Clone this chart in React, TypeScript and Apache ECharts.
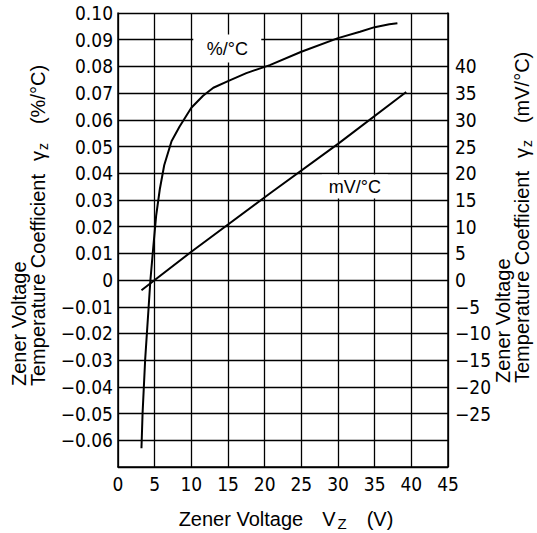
import React, { useEffect, useRef } from "react";
import * as echarts from "echarts";

// Zener voltage Vz (V) vs temperature coefficient
const pctCurveVz = [3.2, 3.35, 3.7, 4.18, 4.42, 4.8, 5.2, 5.7, 6.3, 7.3, 8.4, 10, 11.6, 13, 15, 17.5, 20.7, 25, 30, 33, 35, 37, 38.1];
const pctCurveCoef = [-0.063, -0.05, -0.03, -0.01, 0, 0.012, 0.024, 0.034, 0.043, 0.052, 0.0575, 0.0645, 0.069, 0.072, 0.0745, 0.0775, 0.0805, 0.0855, 0.0906, 0.093, 0.0947, 0.0958, 0.0962];

const mvLineVz = [3.2, 10, 20.7, 30, 39.3];
const mvLineCoef = [-1.9, 5.3, 16.2, 25.5, 35.2];

const xTickValues = [0, 5, 10, 15, 20, 25, 30, 35, 40, 45];
const xTickLabels = ["0", "5", "10", "15", "20", "25", "30", "35", "40", "45"];

const leftTickValues = [0.1, 0.09, 0.08, 0.07, 0.06, 0.05, 0.04, 0.03, 0.02, 0.01, 0, -0.01, -0.02, -0.03, -0.04, -0.05, -0.06, -0.07];
const leftTickLabels = ["0.10", "0.09", "0.08", "0.07", "0.06", "0.05", "0.04", "0.03", "0.02", "0.01", "0", "\u22120.01", "\u22120.02", "\u22120.03", "\u22120.04", "\u22120.05", "\u22120.06", ""];

const rightTickValues = [50, 45, 40, 35, 30, 25, 20, 15, 10, 5, 0, -5, -10, -15, -20, -25, -30, -35];
const rightTickLabels = ["", "", "40", "35", "30", "25", "20", "15", "10", "5", "0", "\u22125", "\u221210", "\u221215", "\u221220", "\u221225", "", ""];

const pctLabel = { text: "%/\u00b0C", vz: 14.9, coef: 0.0867 };
const mvLabel = { text: "mV/\u00b0C", vz: 32.3, coef: 17.5 };

const X_MIN = 0, X_MAX = 45, L_MIN = -0.07, L_MAX = 0.1;

const lookup = (vals: number[], labels: string[]) => (v: number) => {
  let best = 0;
  for (let i = 1; i < vals.length; i++) if (Math.abs(vals[i] - v) < Math.abs(vals[best] - v)) best = i;
  return labels[best];
};

const TICK_FONT = '"Liberation Sans Narrow", "DejaVu Sans Condensed", sans-serif';
const TITLE_FONT = '"Liberation Sans", Arial, Helvetica, sans-serif';

export default function App() {
  const ref = useRef<HTMLDivElement>(null);
  useEffect(() => {
    if (!ref.current) return;
    const chart = echarts.init(ref.current, undefined, { renderer: "svg" });
    const tickLabel = { color: "#000", fontSize: 19, fontFamily: TICK_FONT };
    const border = { show: true, onZero: false, lineStyle: { color: "#000", width: 1.5 } };
    const gridLine = { show: true, lineStyle: { color: "#000", width: 1.3, type: "solid", opacity: 1 } };
    const rich = (pad: number) => ({
      g: { fontSize: 20, fontFamily: TITLE_FONT, lineHeight: 24, padding: [0, 0, 0, 13] },
      s: { fontSize: 14, fontFamily: TITLE_FONT, lineHeight: 12, verticalAlign: "bottom", padding: [0, 0, 0, 1] },
      p: { fontSize: 20, fontFamily: TITLE_FONT, lineHeight: 24, padding: [0, 0, 0, pad] },
    });
    chart.setOption({
      animation: false,
      backgroundColor: "#fff",
      grid: { left: 118, right: 89, top: 13, bottom: 66, show: false, containLabel: false },
      xAxis: {
        type: "value",
        min: X_MIN,
        max: X_MAX,
        interval: 5,
        axisLine: border,
        axisTick: { show: false },
        splitLine: gridLine,
        axisLabel: { ...tickLabel, margin: 7, formatter: lookup(xTickValues, xTickLabels) },
      },
      yAxis: [
        {
          type: "value",
          min: L_MIN,
          max: L_MAX,
          interval: 0.01,
          axisLine: border,
          axisTick: { show: false },
          splitLine: gridLine,
          axisLabel: { ...tickLabel, margin: 5, formatter: lookup(leftTickValues, leftTickLabels) },
        },
        {
          type: "value",
          position: "right",
          min: -35,
          max: 50,
          interval: 5,
          axisLine: border,
          axisTick: { show: false },
          splitLine: { show: false },
          axisLabel: { ...tickLabel, margin: 7, formatter: lookup(rightTickValues, rightTickLabels) },
        },
      ],
      series: [
        {
          type: "line",
          yAxisIndex: 0,
          data: pctCurveVz.map((x, i) => [x, pctCurveCoef[i]]),
          smooth: false,
          showSymbol: false,
          lineStyle: { color: "#000", width: 2 },
          z: 5,
          markPoint: {
            symbol: "rect",
            symbolSize: [68, 28],
            itemStyle: { color: "#fff" },
            label: { show: true, position: "inside", formatter: pctLabel.text, color: "#000", fontSize: 18, fontFamily: TITLE_FONT },
            data: [{ coord: [pctLabel.vz, pctLabel.coef] }],
          },
        },
        {
          type: "line",
          yAxisIndex: 1,
          data: mvLineVz.map((x, i) => [x, mvLineCoef[i]]),
          showSymbol: false,
          lineStyle: { color: "#000", width: 2 },
          z: 5,
          markPoint: {
            symbol: "rect",
            symbolSize: [66, 24],
            itemStyle: { color: "#fff" },
            label: { show: true, position: "inside", formatter: mvLabel.text, color: "#000", fontSize: 18, fontFamily: TITLE_FONT },
            data: [{ coord: [mvLabel.vz, mvLabel.coef] }],
          },
        },
      ],
      graphic: [
        {
          type: "text",
          x: 19,
          y: 386,
          rotation: Math.PI / 2,
          style: { text: "Zener Voltage", fill: "#000", font: `20px ${TITLE_FONT}`, align: "left", verticalAlign: "middle" },
        },
        {
          type: "text",
          x: 38,
          y: 386,
          rotation: Math.PI / 2,
          style: {
            text: "Temperature Coefficient{g|\u03b3}{s|z}{p|(%/\u00b0C)}",
            fill: "#000",
            font: `20px ${TITLE_FONT}`,
            align: "left",
            verticalAlign: "middle",
            rich: rich(19),
          },
        },
        {
          type: "text",
          x: 503,
          y: 383,
          rotation: Math.PI / 2,
          style: { text: "Zener Voltage", fill: "#000", font: `20px ${TITLE_FONT}`, align: "left", verticalAlign: "middle" },
        },
        {
          type: "text",
          x: 522,
          y: 383,
          rotation: Math.PI / 2,
          style: {
            text: "Temperature Coefficient{g|\u03b3}{s|z}{p|(mV/\u00b0C)}",
            fill: "#000",
            font: `20px ${TITLE_FONT}`,
            align: "left",
            verticalAlign: "middle",
            rich: rich(17),
          },
        },
        {
          type: "text",
          x: 286,
          y: 519,
          style: {
            text: "Zener Voltage{v|V}{s|Z}{p|(V)}",
            fill: "#000",
            font: `20px ${TITLE_FONT}`,
            align: "center",
            verticalAlign: "middle",
            rich: {
              v: { fontSize: 20, fontFamily: TITLE_FONT, lineHeight: 24, padding: [0, 2, 0, 19] },
              s: { fontSize: 15, fontFamily: TITLE_FONT, lineHeight: 12, verticalAlign: "bottom" },
              p: { fontSize: 20, fontFamily: TITLE_FONT, lineHeight: 24, padding: [0, 0, 0, 20] },
            },
          },
        },
      ],
    });
    return () => chart.dispose();
  }, []);
  return <div ref={ref} style={{ width: 537, height: 533, position: "absolute", left: 0, top: 0 }} />;
}
